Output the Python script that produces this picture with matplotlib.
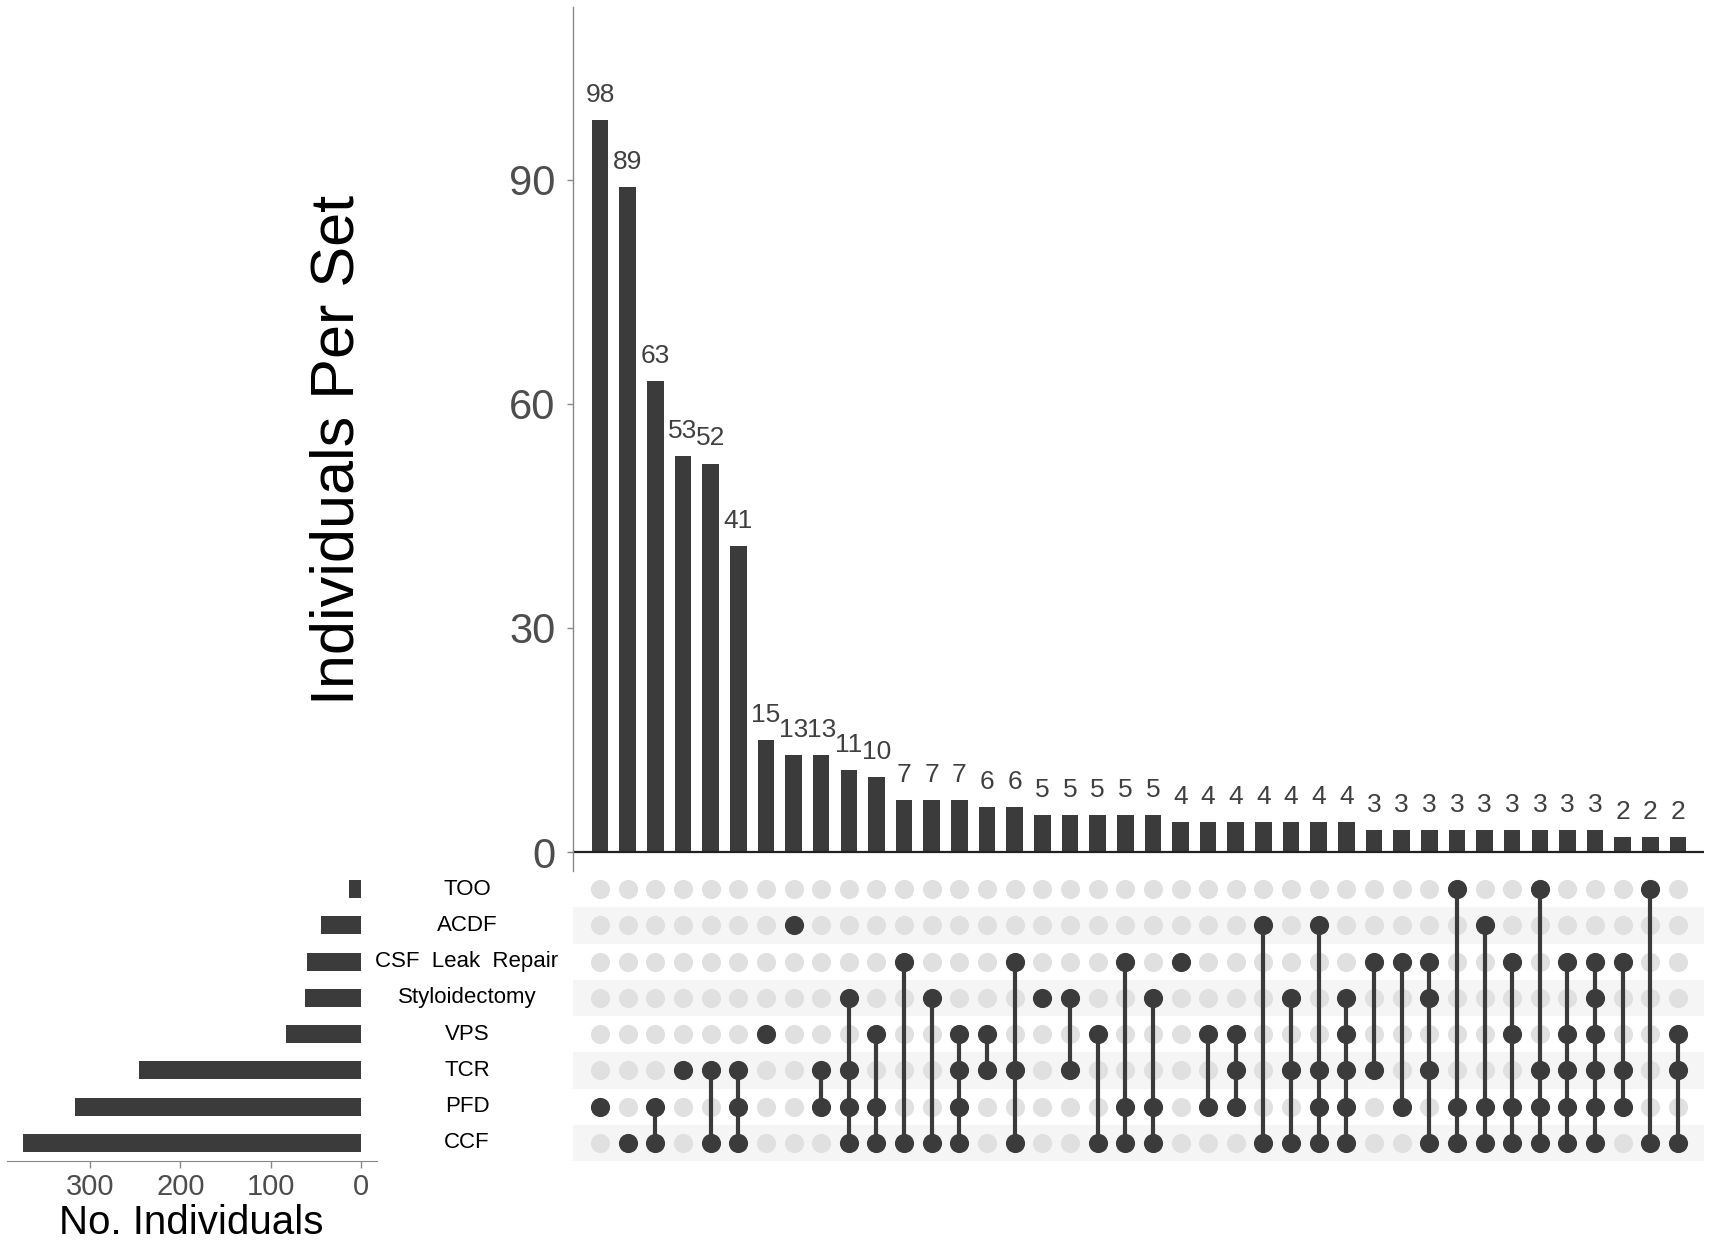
import numpy as np
import matplotlib
matplotlib.use("Agg")
import matplotlib.pyplot as plt
from matplotlib.transforms import blended_transform_factory

plt.rcParams['font.family'] = ['Liberation Sans', 'DejaVu Sans']

# set names, top to bottom in the matrix
set_names = ["TOO", "ACDF", "CSF  Leak  Repair", "Styloidectomy", "VPS", "TCR", "PFD", "CCF"]
set_keys = ["TOO", "ACDF", "CSF", "Stylo", "VPS", "TCR", "PFD", "CCF"]
set_sizes = [13, 45, 60, 62, 83, 246, 316, 374]

# intersection sizes and members, left to right
inter_sizes = [98, 89, 63, 53, 52, 41, 15, 13, 13, 11, 10, 7, 7, 7, 6, 6,
               5, 5, 5, 5, 5, 4, 4, 4, 4, 4, 4, 4,
               3, 3, 3, 3, 3, 3, 3, 3, 3, 2, 2, 2]
inter_members = [
    ["PFD"], ["CCF"], ["PFD", "CCF"], ["TCR"], ["TCR", "CCF"],
    ["TCR", "PFD", "CCF"], ["VPS"], ["ACDF"], ["TCR", "PFD"],
    ["Stylo", "TCR", "PFD", "CCF"], ["VPS", "PFD", "CCF"], ["CSF", "CCF"],
    ["Stylo", "CCF"], ["VPS", "TCR", "PFD", "CCF"], ["VPS", "TCR"],
    ["CSF", "TCR", "CCF"], ["Stylo"], ["Stylo", "TCR"], ["VPS", "CCF"],
    ["CSF", "PFD", "CCF"], ["Stylo", "PFD", "CCF"], ["CSF"], ["VPS", "PFD"],
    ["VPS", "TCR", "PFD"], ["ACDF", "CCF"], ["Stylo", "TCR", "CCF"],
    ["ACDF", "TCR", "PFD", "CCF"], ["Stylo", "VPS", "TCR", "PFD", "CCF"],
    ["CSF", "TCR"], ["CSF", "PFD"], ["CSF", "Stylo", "TCR", "CCF"],
    ["TOO", "PFD", "CCF"], ["ACDF", "PFD", "CCF"], ["CSF", "VPS", "PFD", "CCF"],
    ["TOO", "TCR", "PFD", "CCF"], ["CSF", "VPS", "TCR", "PFD", "CCF"],
    ["CSF", "Stylo", "VPS", "TCR", "PFD", "CCF"], ["CSF", "TCR", "PFD"],
    ["TOO", "CCF"], ["VPS", "TCR", "CCF"],
]

dark = "#3b3b3b"
light_dot = "#e0e0e0"
stripe = "#f5f5f5"
tick_col = "#4d4d4d"

W, H = 1713, 1241
fig = plt.figure(figsize=(W / 100, H / 100), dpi=100)

def box(x0, y0, x1, y1):
    return [x0 / W, 1 - y1 / H, (x1 - x0) / W, (y1 - y0) / H]

ax_s = fig.add_axes(box(6.7, 871, 376.6, 1161))
ax_b = fig.add_axes(box(573, 7, 1704, 871))
ax_m = fig.add_axes(box(573, 871, 1704, 1161))

ncol = len(inter_sizes)
xs = np.arange(ncol)
xlim = (-0.98, 39.94)

# ---- intersection bars
ax_b.bar(xs, inter_sizes, width=0.6, color=dark)
for x, v in zip(xs, inter_sizes):
    ax_b.annotate(str(v), (x, v), xytext=(0, 13), textcoords="offset points",
                  ha="center", va="baseline", fontsize=19, color="#404040")
ax_b.set_xlim(*xlim)
ax_b.set_ylim(-2.54, 113.1)
ax_b.axhline(0, color="#222222", lw=1.6)
ax_b.set_yticks([0, 30, 60, 90])
ax_b.tick_params(axis="y", labelsize=30, labelcolor=tick_col, color="#888888",
                 length=4.5, width=1, pad=8)
ax_b.set_xticks([])
for sp in ["top", "right", "bottom"]:
    ax_b.spines[sp].set_visible(False)
ax_b.spines["left"].set_color("#888888")
ax_b.spines["left"].set_linewidth(1)
fig.text(338 / W, 1 - 450 / H, "Individuals Per Set", rotation=90,
         ha="center", va="center", fontsize=44, color="black")

# ---- matrix
nrow = len(set_keys)
for i in range(nrow):
    if i % 2 == 1:
        ax_m.axhspan(i - 0.5, i + 0.5, color=stripe, lw=0, zorder=0)
for x, members in zip(xs, inter_members):
    rows = [set_keys.index(m) for m in members]
    ax_m.scatter([x] * nrow, range(nrow), s=190, color=light_dot, lw=0, zorder=1)
    if len(rows) > 1:
        ax_m.plot([x, x], [min(rows), max(rows)], color=dark, lw=3, zorder=2)
    ax_m.scatter([x] * len(rows), rows, s=190, color=dark, lw=0, zorder=3)
ax_m.set_xlim(*xlim)
ax_m.set_ylim(nrow - 0.5, -0.5)
ax_m.axis("off")

trans = blended_transform_factory(fig.transFigure, ax_m.transData)
for i, name in enumerate(set_names):
    ax_m.text(467 / W, i, name, transform=trans, ha="center", va="center",
              fontsize=16, color="black", clip_on=False)

# ---- set sizes
ax_s.patch.set_visible(False)
ax_s.barh(range(nrow), set_sizes, height=0.5, color=dark)
ax_s.set_ylim(nrow - 0.5, -0.5)
ax_s.set_xlim(392, -17)
ax_s.set_xticks([0, 100, 200, 300])
ax_s.set_yticks([])
ax_s.tick_params(axis="x", labelsize=21, labelcolor=tick_col, color="#888888",
                 length=5, width=1)
for sp in ["top", "right", "left"]:
    ax_s.spines[sp].set_visible(False)
ax_s.spines["bottom"].set_color("#888888")
ax_s.set_xlabel("No. Individuals", fontsize=29, color="black", labelpad=2)

fig.savefig("out.png", dpi=100)
